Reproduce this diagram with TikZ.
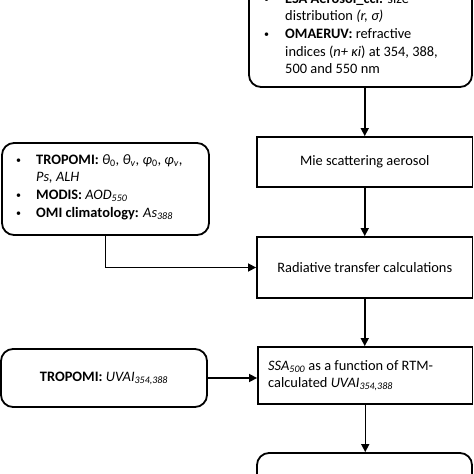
\documentclass[tikz,border=0pt]{standalone}
\usepackage{fontspec}
\setmainfont{Carlito}
\usetikzlibrary{arrows.meta}
\newcommand{\isub}[2]{\textit{#1}\textsubscript{\textit{#2}}}
\newcommand{\bul}{\raisebox{0.5pt}{\fontsize{10}{10}\selectfont\textbullet}}
\begin{document}
\begin{tikzpicture}[x=1pt,y=-1pt,
  box/.style={draw, line width=1.8pt, inner sep=0pt, font=\fontsize{14.4}{17.7}\selectfont},
  rbox/.style={box, rounded corners=12pt},
  txt/.style={inner sep=0pt, font=\fontsize{14.4}{17.7}\selectfont},
  arr/.style={line width=1.5pt, -{Triangle[length=8pt,width=8pt]}}]
\useasboundingbox (0,0) rectangle (474,474);
% boxes
\node[rbox, minimum width=223pt, minimum height=127pt] (topbox) at (360.5,23.5) {};
\node[box, minimum width=215.5pt, minimum height=50pt] (mie) at (364.75,162) {Mie scattering aerosol};
\node[box, minimum width=215.5pt, minimum height=61pt] (rad) at (364.75,267.5) {Radiative transfer calculations};
\node[box, minimum width=214.5pt, minimum height=57pt] (ssa) at (365.25,375.5) {};
\node[rbox, minimum width=215pt, minimum height=67pt] (last) at (364.5,486.5) {};
\node[rbox, minimum width=207pt, minimum height=92pt] (inbox) at (105.5,189) {};
\node[rbox, minimum width=206pt, minimum height=58pt] (uvai) at (104,378) {\textbf{TROPOMI:} \isub{UVAI}{354,388}};
% texts
\node[txt, anchor=base west] (toptxt) at (264,3) {\begin{tabular}[t]{@{}p{21pt}@{}l@{}}
\bul & \textbf{ESA Aerosol\_cci:} size\\
 & distribution \textit{(r, σ)}\\
\bul & \textbf{OMAERUV:} refractive\\
 & indices (\textit{n+ κi}) at 354, 388,\\
 & 500 and 550 nm
\end{tabular}};
\node[txt, anchor=base west] (intxt) at (16,164) {\begin{tabular}[t]{@{}p{20pt}@{}l@{}}
\bul & \textbf{TROPOMI:} \textit{θ}\textsubscript{0}, \textit{θ}\textsubscript{\textit{v}}, \textit{φ}\textsubscript{0}, \textit{φ}\textsubscript{\textit{v}},\\
 & \textit{Ps, ALH}\\
\bul & \textbf{MODIS:} \isub{AOD}{550}\\
\bul & \textbf{OMI climatology:} \isub{As}{388}
\end{tabular}};
\node[txt, anchor=base west] (ssatxt) at (268,370) {\begin{tabular}[t]{@{}l@{}}
\isub{SSA}{500} as a function of RTM-\\
calculated \isub{UVAI}{354,388}
\end{tabular}};
% connectors
\draw[arr] (topbox.south -| mie.north) -- (mie.north);
\draw[arr] (mie.south) -- (rad.north);
\draw[arr] (rad.south) -- (rad.south |- ssa.north);
\draw[arr] (ssa.south) -- (ssa.south |- last.north);
\draw[arr] (inbox.south) |- (rad.west);
\draw[arr] (uvai.east) -- (uvai.east -| ssa.west);
\end{tikzpicture}
\end{document}
